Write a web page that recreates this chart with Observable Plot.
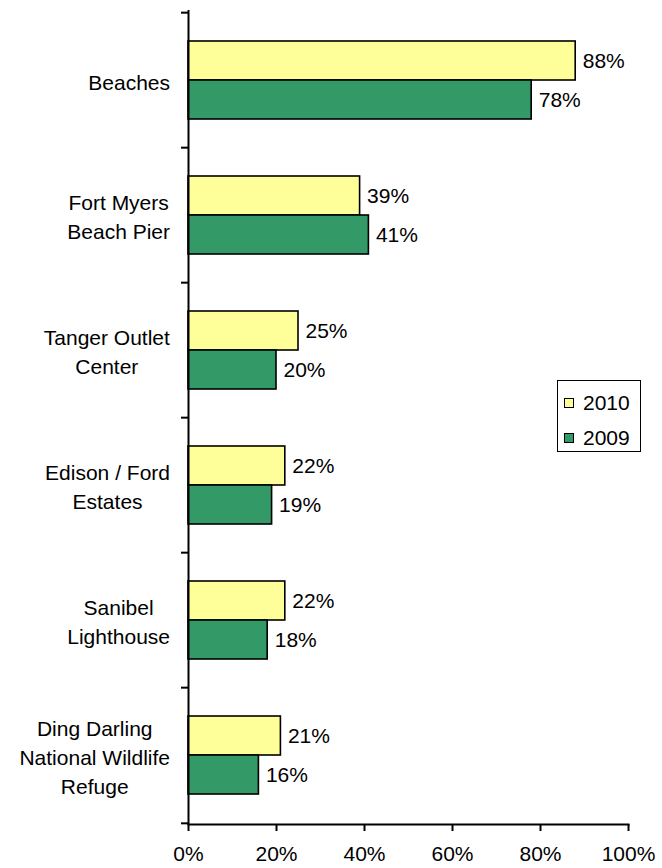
<!DOCTYPE html>
<html>
<head>
<meta charset="utf-8">
<script src="https://cdn.jsdelivr.net/npm/d3@7"></script>
<script src="https://cdn.jsdelivr.net/npm/@observablehq/plot@0.6"></script>
<style>
  html, body { margin: 0; padding: 0; background: #fff; }
  #chart { position: relative; width: 662px; height: 868px; font-family: "Liberation Sans", Arial, sans-serif; }
  #legend { position: absolute; left: 557px; top: 380px; width: 82px; height: 70px; border: 1px solid #000; background: #fff; font-size: 21px; }
  .item { position: absolute; left: 6px; display: flex; align-items: center; height: 24px; }
  .sw { width: 8px; height: 8px; border: 1px solid #000; margin-right: 9px; }
</style>
</head>
<body>
<div id="chart"></div>
<script>
const categories = [
  "Beaches",
  "Fort Myers\nBeach Pier",
  "Tanger Outlet\nCenter",
  "Edison / Ford\nEstates",
  "Sanibel\nLighthouse",
  "Ding Darling\nNational Wildlife\nRefuge"
];
const series = ["2010", "2009"];
const values2010 = [88, 39, 25, 22, 22, 21];
const values2009 = [78, 41, 20, 19, 18, 16];
const xTicks = [0, 20, 40, 60, 80, 100];
const colors = {"2010": "#FFFF99", "2009": "#339966"};

const d2010 = categories.map((c, i) => ({category: c, value: values2010[i]}));
const d2009 = categories.map((c, i) => ({category: c, value: values2009[i]}));

const W = 662, H = 868;
const mTop = 10, mBottom = 44, mLeft = 188, mRight = 34;
const step = (H - mTop - mBottom) / categories.length;
const barH = 39;
const fs = 21;
const pad = 1 - (2 * barH) / step;

const plot = Plot.plot({
  width: W,
  height: H,
  marginTop: mTop,
  marginBottom: mBottom,
  marginLeft: mLeft,
  marginRight: mRight,
  style: {fontFamily: '"Liberation Sans", Arial, sans-serif', fontSize: fs + "px", background: "#fff", color: "#000"},
  x: {domain: [0, 100], ticks: xTicks, tickFormat: d => d + "%", label: null},
  y: {domain: categories, paddingInner: pad, paddingOuter: pad / 2, label: null},
  marks: [
    Plot.barX(d2010, {y: "category", x: "value", fill: colors["2010"], stroke: "#000", strokeWidth: 1.6, insetBottom: barH}),
    Plot.barX(d2009, {y: "category", x: "value", fill: colors["2009"], stroke: "#000", strokeWidth: 1.6, insetTop: barH}),
    Plot.text(d2010, {y: "category", x: "value", text: d => d.value + "%", dx: 7, dy: -barH / 2, textAnchor: "start", fontSize: fs, fill: "#000"}),
    Plot.text(d2009, {y: "category", x: "value", text: d => d.value + "%", dx: 7, dy: barH / 2, textAnchor: "start", fontSize: fs, fill: "#000"}),
    Plot.ruleX([0], {stroke: "#000", strokeWidth: 2}),
    Plot.frame({anchor: "bottom", stroke: "#000", strokeWidth: 2}),
    Plot.axisX({ticks: xTicks, tickFormat: d => d + "%", tickSize: 7, tickPadding: 15, strokeWidth: 2, fontSize: fs, label: null}),
    Plot.axisY({tickSize: 0, tickPadding: 20, textAnchor: "middle", lineHeight: 1.38, fontSize: fs, label: null}),
    Plot.axisY({tickSize: 7, tickFormat: () => "", strokeWidth: 2, dy: -step / 2, label: null}),
    Plot.axisY(categories.slice(-1), {tickSize: 7, tickFormat: () => "", strokeWidth: 2, dy: step / 2, label: null})
  ]
});

const chart = document.getElementById("chart");
chart.appendChild(plot);

// Excel-like category labels: each block centered, widest line ending near the axis
const rightEdge = 170;
const svgLeft = plot.getBoundingClientRect().left;
d3.select(plot).selectAll("g[aria-label='y-axis tick label'] text").each(function() {
  const r = this.getBoundingClientRect();
  const shift = rightEdge - (r.right - svgLeft);
  const t = this.getAttribute("transform") || "";
  this.setAttribute("transform", `translate(${shift},0) ${t}`);
});

// legend
const legend = document.createElement("div");
legend.id = "legend";
series.forEach((s, i) => {
  const item = document.createElement("div");
  item.className = "item";
  item.style.top = (10 + i * 35) + "px";
  const sw = document.createElement("div");
  sw.className = "sw";
  sw.style.background = colors[s];
  const lab = document.createElement("span");
  lab.textContent = s;
  item.appendChild(sw);
  item.appendChild(lab);
  legend.appendChild(item);
});
chart.appendChild(legend);
</script>
</body>
</html>
